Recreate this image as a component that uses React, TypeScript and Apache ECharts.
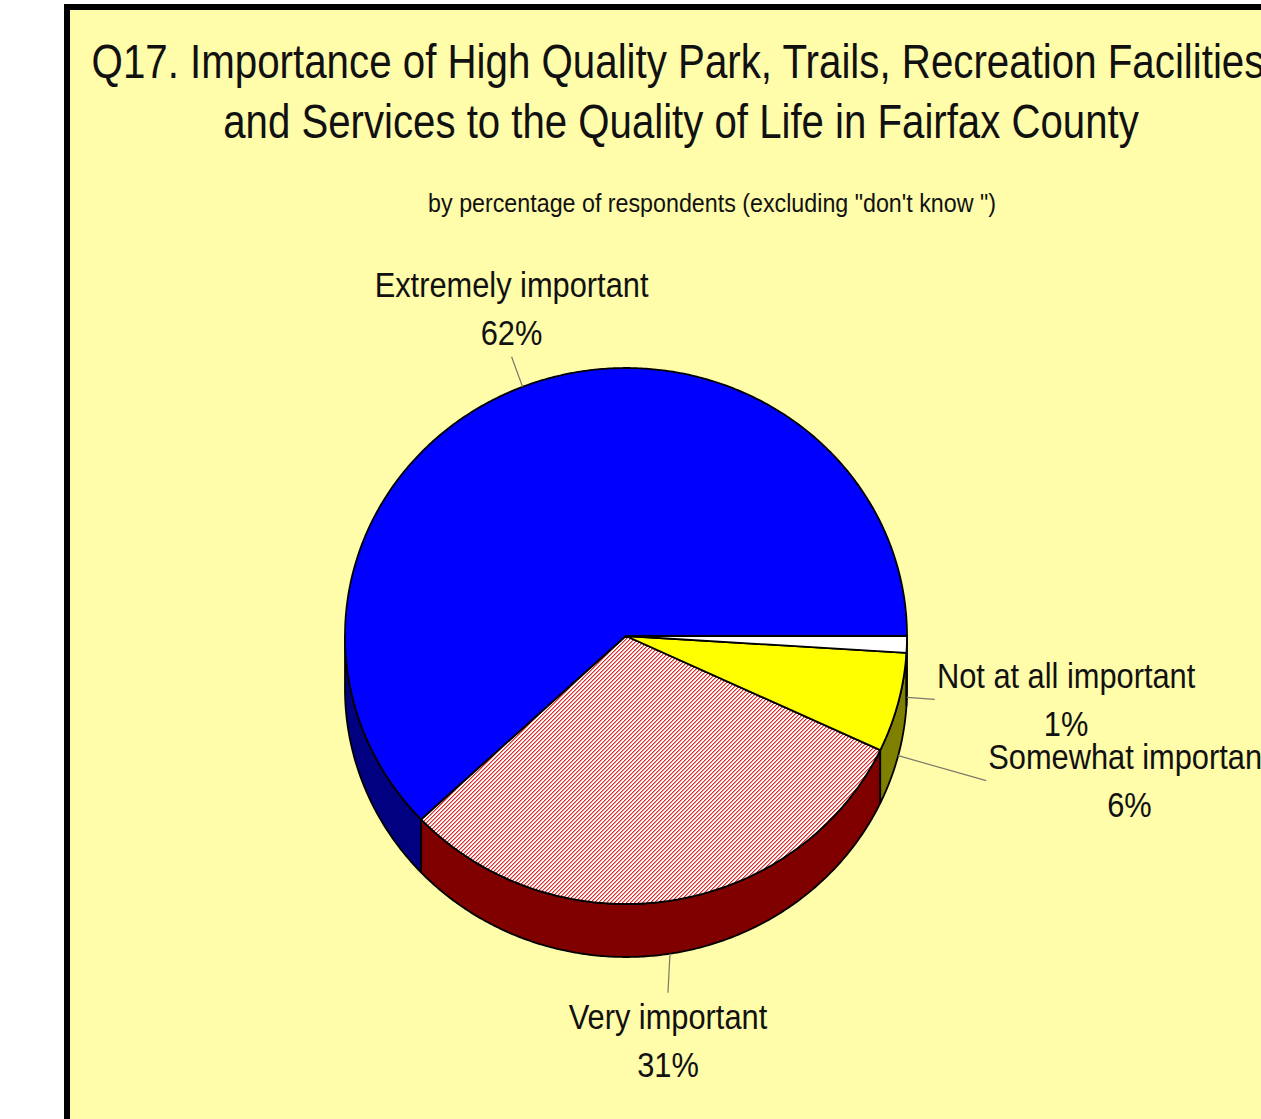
import React, { useEffect, useRef } from 'react';
import * as echarts from 'echarts';

// ---- data ----
const titleLines = [
  'Q17. Importance of High Quality Park, Trails, Recreation Facilities',
  'and Services to the Quality of Life in Fairfax County',
];
const subtitleText = 'by percentage of respondents (excluding "don\'t know ")';
const categories = ['Extremely important', 'Very important', 'Somewhat important', 'Not at all important'];
const values = [62, 31, 6, 1];

// ---- styles / layout ----
const topColors = ['#0000FF', 'hatch', '#FFFF00', '#FFFFFF'];
const sideColors = ['#000080', '#800000', '#808000', '#808080'];
const leaderOffsets = [
  [-11, -30],
  [-2, 39],
  [88, 25],
  [28, 2],
];
const CX = 626;
const CY = 636;
const RX = 281;
const RY = 268;
const DEPTH = 53;
const FONT_FAMILY = '"Liberation Sans", Arial, sans-serif';
const LABEL_FS = 35;
const LABEL_SX = 0.88;
const LABEL_LH = 48;

const measureCanvas = typeof document !== 'undefined' ? document.createElement('canvas') : null;
function measure(text: string, fs: number): number {
  const ctx = measureCanvas!.getContext('2d')!;
  ctx.font = `${fs}px ${FONT_FAMILY}`;
  return ctx.measureText(text).width;
}

function makeHatch(): HTMLCanvasElement {
  const c = document.createElement('canvas');
  c.width = 8;
  c.height = 8;
  const ctx = c.getContext('2d')!;
  const img = ctx.createImageData(8, 8);
  for (let y = 0; y < 8; y++) {
    for (let x = 0; x < 8; x++) {
      const k = (x + y) % 4;
      let r = 255, g = 255, b = 255;
      if (k === 0) { r = 228; g = 40; b = 40; }
      else if (k === 1) { r = 244; g = 150; b = 150; }
      const o = (y * 8 + x) * 4;
      img.data[o] = r; img.data[o + 1] = g; img.data[o + 2] = b; img.data[o + 3] = 255;
    }
  }
  ctx.putImageData(img, 0, 0);
  return c;
}

function pt(tDeg: number, dy = 0): number[] {
  const t = (tDeg * Math.PI) / 180;
  return [CX + RX * Math.cos(t), CY + RY * Math.sin(t) + dy];
}
function arc(a: number, b: number, dy = 0): number[][] {
  const pts: number[][] = [];
  const n = Math.max(2, Math.ceil((b - a) / 0.5));
  for (let i = 0; i <= n; i++) pts.push(pt(a + ((b - a) * i) / n, dy));
  return pts;
}

export default function App() {
  const ref = useRef<HTMLDivElement>(null);
  useEffect(() => {
    if (!ref.current) return;
    const chart = echarts.init(ref.current, null, { renderer: 'svg' });
    const hatch = makeHatch();
    const total = values.reduce((s, v) => s + v, 0);
    const cum: number[] = [0];
    values.forEach((v, i) => cum.push(cum[i] + v));

    const renderItem = (params: any, api: any) => {
      const i = params.dataIndex;
      const v = api.value(0);
      const ccwStart = (cum[i] / total) * 360;
      const ccwEnd = ((cum[i] + v) / total) * 360;
      const a = 360 - ccwEnd;
      const b = 360 - ccwStart;
      const children: any[] = [];
      const lo = Math.max(a, 0);
      const hi = Math.min(b, 180);
      if (hi > lo) {
        const pts = [...arc(lo, hi, 0), ...arc(lo, hi, DEPTH).reverse()];
        children.push({
          type: 'polygon',
          shape: { points: pts },
          style: { fill: sideColors[i], stroke: '#000', lineWidth: 1.8, lineJoin: 'round' },
        });
      }
      const fill = topColors[i] === 'hatch' ? { image: hatch, repeat: 'repeat' } : topColors[i];
      children.push({
        type: 'polygon',
        shape: { points: [[CX, CY], ...arc(a, b, 0)] },
        style: { fill, stroke: '#000', lineWidth: 1.8, lineJoin: 'round' },
      });
      // label
      const mid = (a + b) / 2;
      const lower = Math.sin((mid * Math.PI) / 180) > 0;
      const [ax, ay] = pt(mid, lower ? DEPTH : 0);
      const [ox, oy] = leaderOffsets[i];
      const ex = ax + ox;
      const ey = ay + oy;
      children.push({
        type: 'line',
        shape: { x1: ax, y1: ay, x2: ex, y2: ey },
        style: { stroke: '#7a7a6a', lineWidth: 1.2 },
      });
      const lines = [categories[i], `${v}%`];
      const w = Math.max(...lines.map((l) => measure(l, LABEL_FS))) * LABEL_SX;
      const h = lines.length * LABEL_LH;
      let tx: number, ty: number;
      if (Math.abs(oy) > Math.abs(ox)) {
        tx = ex;
        ty = oy < 0 ? ey - h / 2 : ey + h / 2;
      } else {
        tx = ox > 0 ? ex + 2 + w / 2 : ex - 2 - w / 2;
        ty = ey;
      }
      children.push({
        type: 'text',
        x: tx,
        y: ty,
        scaleX: LABEL_SX,
        style: {
          text: lines.join('\n'),
          x: 0,
          y: 0,
          font: `${LABEL_FS}px ${FONT_FAMILY}`,
          fill: '#111',
          align: 'center',
          verticalAlign: 'middle',
          textAlign: 'center',
          textVerticalAlign: 'middle',
          lineHeight: LABEL_LH,
        },
      });
      return { type: 'group', children };
    };

    const textEl = (text: string, x: number, y: number, fs: number, sx: number) => ({
      type: 'text',
      x,
      y,
      scaleX: sx,
      z: 1,
      style: {
        text,
        x: 0,
        y: 0,
        font: `${fs}px ${FONT_FAMILY}`,
        fill: '#111',
        align: 'center',
        verticalAlign: 'middle',
        textAlign: 'center',
        textVerticalAlign: 'middle',
      },
    });

    chart.setOption({
      animation: false,
      backgroundColor: '#ffffff',
      graphic: {
        elements: [
          {
            type: 'rect',
            z: 0,
            shape: { x: 67, y: 7, width: 1300, height: 1200 },
            style: { fill: '#FFFCAA', stroke: '#000', lineWidth: 6 },
          },
          textEl(titleLines[0], 678, 61, 49, 0.822),
          textEl(titleLines[1], 681, 121, 49, 0.82),
          textEl(subtitleText, 712, 203, 26, 0.895),
        ],
      },
      series: [
        {
          type: 'custom',
          coordinateSystem: 'none',
          silent: true,
          data: values,
          renderItem,
        },
      ],
    });
    return () => chart.dispose();
  }, []);
  return (
    <div
      ref={ref}
      style={{ position: 'absolute', left: 0, top: 0, width: 1261, height: 1119, background: '#fff' }}
    />
  );
}
